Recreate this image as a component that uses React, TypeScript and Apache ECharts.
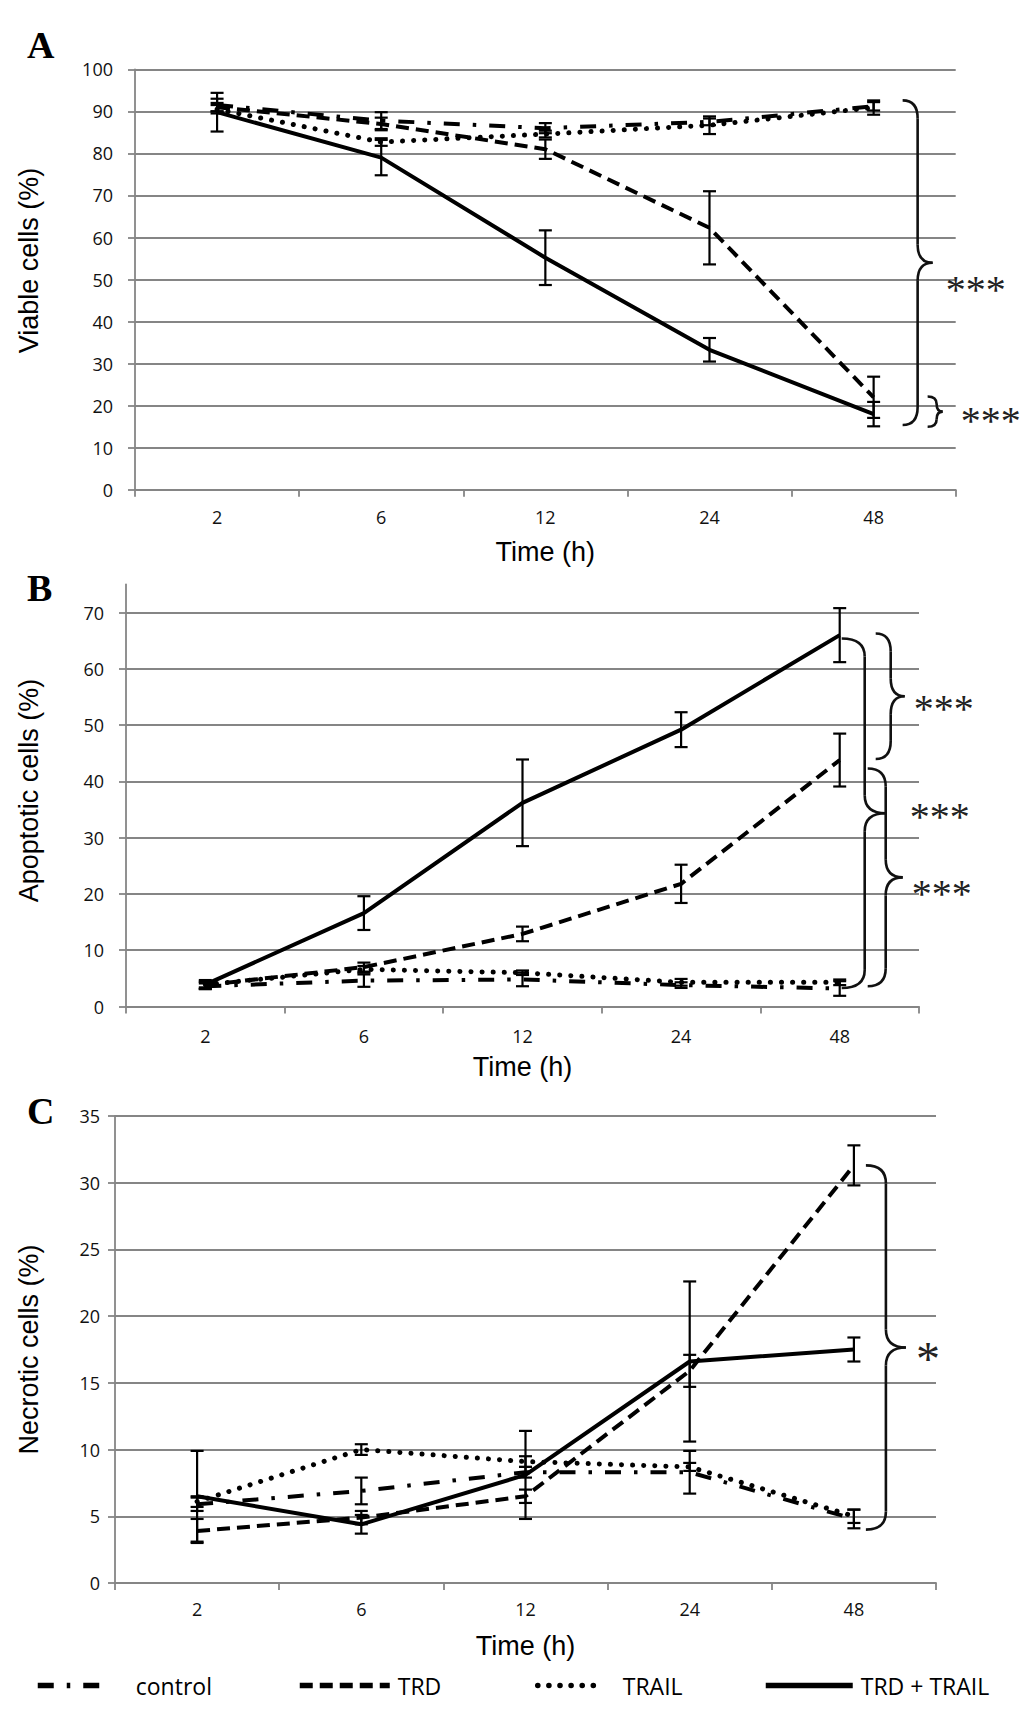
import React, { useEffect, useRef } from "react";
import * as echarts from "echarts";

// ---------- data ----------
const categories = ["2", "6", "12", "24", "48"];
const seriesNames = ["control", "TRD", "TRAIL", "TRD + TRAIL"];

// Panel A – viable cells (%)
const viableControl = [91.5, 87.8, 86.0, 87.5, 91.2];
const viableControlSd = [1.5, 2.0, 1.2, 0.8, 1.0];
const viableTRD = [91.0, 87.0, 81.0, 62.3, 22.0];
const viableTRDSd = [1.0, 1.5, 2.3, 8.7, 4.9];
const viableTRAIL = [90.5, 82.7, 84.6, 86.7, 90.9];
const viableTRAILSd = [1.0, 0.9, 0.8, 2.1, 1.7];
const viableCombo = [89.8, 79.0, 55.2, 33.3, 18.0];
const viableComboSd = [4.6, 4.2, 6.5, 2.8, 2.9];

// Panel B – apoptotic cells (%)
const apoControl = [3.6, 4.6, 4.8, 3.8, 3.2];
const apoControlSd = [0.5, 1.1, 1.2, 0.5, 1.3];
const apoTRD = [3.8, 7.0, 12.9, 21.8, 43.8];
const apoTRDSd = [0.6, 0.8, 1.3, 3.4, 4.7];
const apoTRAIL = [3.9, 6.6, 6.0, 4.3, 4.3];
const apoTRAILSd = [0.5, 0.6, 0.4, 0.6, 0.5];
const apoCombo = [3.9, 16.6, 36.2, 49.2, 66.0];
const apoComboSd = [0.8, 3.0, 7.7, 3.1, 4.8];

// Panel C – necrotic cells (%)
const necControl = [5.9, 6.9, 8.3, 8.3, 4.8];
const necControlSd = [0.5, 1.0, 0.4, 1.6, 0.7];
const necTRD = [3.9, 4.9, 6.5, 15.9, 31.3];
const necTRDSd = [0.9, 0.5, 0.5, 1.2, 1.5];
const necTRAIL = [6.1, 10.0, 9.1, 8.7, 5.0];
const necTRAILSd = [0.4, 0.4, 0.4, 0.3, 0.5];
const necCombo = [6.5, 4.4, 8.1, 16.6, 17.5];
const necComboSd = [3.4, 0.7, 3.3, 6.0, 0.9];

// axis ticks
const viableTicks = [0, 10, 20, 30, 40, 50, 60, 70, 80, 90, 100];
const apoTicks = [0, 10, 20, 30, 40, 50, 60, 70];
const necTicks = [0, 5, 10, 15, 20, 25, 30, 35];

const panelLetters = ["A", "B", "C"];
const yTitles = ["Viable cells (%)", "Apoptotic cells (%)", "Necrotic cells (%)"];
const xTitle = "Time (h)";

// significance braces (value range spanned at 48 h)
const viableBraces = [
  { top: 92.6, bottom: 15.4, mark: "***" },
  { top: 22.2, bottom: 15.0, mark: "***" },
];
const apoBraces = [
  { top: 65.4, bottom: 3.3, mark: "***" },
  { top: 66.3, bottom: 44.0, mark: "***" },
  { top: 42.3, bottom: 3.6, mark: "***" },
];
const necBraces = [{ top: 31.3, bottom: 4.0, mark: "*" }];

// ---------- layout / style ----------
const GRAY = "#858585";
const panels = [
  {
    grid: { left: 135, top: 69.3, width: 820.7, height: 420.5 },
    axisMax: 100, interval: 10, ticks: viableTicks,
    labelMargin: 22, xLabelMargin: 18, xNameGap: 49, yNameGap: 93, yNamePad: 38,
    letterY: 45,
    values: [viableControl, viableTRD, viableTRAIL, viableCombo],
    sds: [viableControlSd, viableTRDSd, viableTRAILSd, viableComboSd],
    braces: viableBraces,
    braceLayout: [
      { l: 29, s: 44, t: 59, tx: 72, ty: 21 },
      { l: 54, s: 63, t: 69, tx: 87, ty: 3.5 },
    ],
  },
  {
    grid: { left: 126, top: 584.5, width: 793, height: 422 },
    axisMax: 75, interval: 10, ticks: apoTicks,
    labelMargin: 22, xLabelMargin: 20, xNameGap: 47, yNameGap: 84, yNamePad: 10,
    letterY: 588,
    values: [apoControl, apoTRD, apoTRAIL, apoCombo],
    sds: [apoControlSd, apoTRDSd, apoTRAILSd, apoComboSd],
    braces: apoBraces,
    braceLayout: [
      { l: 2, s: 25, t: 46, tx: 70, ty: -2 },
      { l: 36, s: 51, t: 65, tx: 74, ty: 7 },
      { l: 28, s: 46, t: 63, tx: 72, ty: 11 },
    ],
  },
  {
    grid: { left: 115, top: 1116, width: 821, height: 467 },
    axisMax: 35, interval: 5, ticks: necTicks,
    labelMargin: 15, xLabelMargin: 17, xNameGap: 49, yNameGap: 73, yNamePad: 0,
    letterY: 1111,
    values: [necControl, necTRD, necTRAIL, necCombo],
    sds: [necControlSd, necTRDSd, necTRAILSd, necComboSd],
    braces: necBraces,
    braceLayout: [{ l: 12, s: 32, t: 52, tx: 62, ty: 4 }],
  },
];

const lineStyles: Record<string, any> = {
  control: { type: [16, 13, 3.5, 13], width: 4, cap: "butt" },
  TRD: { type: [13, 7], width: 4, cap: "butt" },
  TRAIL: { type: [0.1, 11], width: 5, cap: "round" },
  "TRD + TRAIL": { type: "solid", width: 4, cap: "butt" },
};

const legendLayout = [
  { left: 35, itemWidth: 72, pad: 21 },
  { left: 297, itemWidth: 90, pad: 3 },
  { left: 535, itemWidth: 66, pad: 14 },
  { left: 763, itemWidth: 87, pad: 3 },
];

const TICK_FONT = "'Open Sans', 'DejaVu Sans', sans-serif";
const TITLE_FONT = "'Liberation Sans', Arial, sans-serif";
const SERIF = "'Liberation Serif', 'Times New Roman', serif";

function errorRender(params: any, api: any) {
  const x = api.value(0);
  const lo = api.value(1);
  const hi = api.value(2);
  const top = api.coord([x, hi]);
  const bot = api.coord([x, lo]);
  const hw = 6.5;
  const style = { stroke: "#000", lineWidth: 2.2 };
  return {
    type: "group",
    children: [
      { type: "line", shape: { x1: top[0], y1: top[1], x2: bot[0], y2: bot[1] }, style },
      { type: "line", shape: { x1: top[0] - hw, y1: top[1], x2: top[0] + hw, y2: top[1] }, style },
      { type: "line", shape: { x1: bot[0] - hw, y1: bot[1], x2: bot[0] + hw, y2: bot[1] }, style },
    ],
  };
}

function buildOption() {
  const grid: any[] = [];
  const xAxis: any[] = [];
  const yAxis: any[] = [];
  const series: any[] = [];
  panels.forEach((p, gi) => {
    grid.push({ ...p.grid, containLabel: false, outerBoundsMode: "none" });
    xAxis.push({
      type: "category",
      gridIndex: gi,
      data: categories,
      boundaryGap: true,
      axisLine: { show: true, lineStyle: { color: GRAY, width: 1.8 } },
      axisTick: { show: true, length: 7, alignWithLabel: false, lineStyle: { color: GRAY, width: 1.8 } },
      axisLabel: { fontSize: 18, fontFamily: TICK_FONT, color: "#111", margin: p.xLabelMargin },
      splitLine: { show: false },
      name: xTitle,
      nameLocation: "middle",
      nameGap: p.xNameGap,
      nameTextStyle: { fontSize: 27, fontFamily: TITLE_FONT, color: "#000" },
    });
    yAxis.push({
      type: "value",
      gridIndex: gi,
      min: 0,
      max: p.axisMax,
      interval: p.interval,
      axisLine: { show: true, lineStyle: { color: GRAY, width: 1.8 } },
      axisTick: { show: true, length: 7, customValues: p.ticks, lineStyle: { color: GRAY, width: 1.8 } },
      axisLabel: {
        fontSize: 18,
        fontFamily: TICK_FONT,
        color: "#111",
        margin: p.labelMargin,
        customValues: p.ticks,
      },
      splitLine: { show: true, lineStyle: { color: GRAY, width: 1.8 } },
      name: yTitles[gi],
      nameLocation: "middle",
      nameRotate: 90,
      nameGap: p.yNameGap,
      nameTextStyle: {
        fontSize: 27,
        fontFamily: TITLE_FONT,
        color: "#000",
        padding: [0, 0, 0, p.yNamePad],
      },
    });
    seriesNames.forEach((name, si) => {
      const ls = lineStyles[name];
      series.push({
        type: "line",
        name,
        xAxisIndex: gi,
        yAxisIndex: gi,
        data: p.values[si],
        symbol: "none",
        showSymbol: false,
        silent: true,
        itemStyle: { color: "#000" },
        lineStyle: { color: "#000", width: ls.width, type: ls.type, cap: ls.cap, join: "round" },
        z: 2,
      });
    });
    seriesNames.forEach((name, si) => {
      series.push({
        type: "custom",
        name: name + " error " + gi,
        xAxisIndex: gi,
        yAxisIndex: gi,
        data: p.values[si].map((v, i) => [i, v - p.sds[si][i], v + p.sds[si][i]]),
        encode: { x: 0, y: [1, 2] },
        renderItem: errorRender,
        silent: true,
        z: 3,
      });
    });
  });

  const legend = seriesNames.map((name, i) => ({
    data: [name],
    left: legendLayout[i].left,
    top: 1674,
    padding: 0,
    itemWidth: legendLayout[i].itemWidth,
    itemHeight: 14,
    selectedMode: false,
    itemStyle: { opacity: 0, borderWidth: 0 },
    lineStyle: { width: 5.5 },
    textStyle: {
      fontSize: 23,
      fontFamily: TICK_FONT,
      color: "#000",
      padding: [0, 0, 0, legendLayout[i].pad],
    },
  }));

  return {
    animation: false,
    backgroundColor: "#ffffff",
    grid,
    xAxis,
    yAxis,
    legend,
    series,
  };
}

function braceElements(xl: number, xs: number, xt: number, yt: number, yb: number) {
  const ym = (yt + yb) / 2;
  const r = Math.min(18, (yb - yt) / 4);
  const style = { stroke: "#111", lineWidth: 2.6, fill: "none" };
  return [
    { type: "bezierCurve", shape: { x1: xl, y1: yt, x2: xs, y2: yt + r, cpx1: xs, cpy1: yt }, style },
    { type: "line", shape: { x1: xs, y1: yt + r, x2: xs, y2: ym - r }, style },
    { type: "bezierCurve", shape: { x1: xs, y1: ym - r, x2: xt, y2: ym, cpx1: xs, cpy1: ym }, style },
    { type: "bezierCurve", shape: { x1: xt, y1: ym, x2: xs, y2: ym + r, cpx1: xs, cpy1: ym }, style },
    { type: "line", shape: { x1: xs, y1: ym + r, x2: xs, y2: yb - r }, style },
    { type: "bezierCurve", shape: { x1: xs, y1: yb - r, x2: xl, y2: yb, cpx1: xs, cpy1: yb }, style },
  ];
}

export default function App() {
  const ref = useRef<HTMLDivElement>(null);
  useEffect(() => {
    if (!ref.current) return;
    const chart = echarts.init(ref.current, null, { renderer: "svg" });
    chart.setOption(buildOption() as any);

    const graphics: any[] = [];
    panels.forEach((p, gi) => {
      graphics.push({
        type: "text",
        x: 27,
        y: p.letterY,
        silent: true,
        style: {
          text: panelLetters[gi],
          fill: "#000",
          font: `bold 38px ${SERIF}`,
          align: "left",
          verticalAlign: "middle",
        },
      });
      p.braces.forEach((b, bi) => {
        const lay = p.braceLayout[bi];
        const [xc, yt] = chart.convertToPixel({ gridIndex: gi } as any, [4, b.top]) as number[];
        const yb = (chart.convertToPixel({ gridIndex: gi } as any, [4, b.bottom]) as number[])[1];
        braceElements(xc + lay.l, xc + lay.s, xc + lay.t, yt, yb).forEach((el) => {
          graphics.push({ ...el, silent: true });
        });
        const ym = (yt + yb) / 2;
        const fs = b.mark === "*" ? 48 : 40;
        graphics.push({
          type: "text",
          x: xc + lay.tx,
          y: ym + lay.ty + fs * 0.14,
          silent: true,
          style: {
            text: b.mark,
            fill: "#222",
            font: `${fs}px ${SERIF}`,
            align: "left",
            verticalAlign: "middle",
          },
        });
      });
    });
    chart.setOption({ graphic: graphics } as any);

    return () => {
      chart.dispose();
    };
  }, []);
  return (
    <div
      ref={ref}
      style={{ position: "absolute", left: 0, top: 0, width: 1033, height: 1728, background: "#fff" }}
    />
  );
}
